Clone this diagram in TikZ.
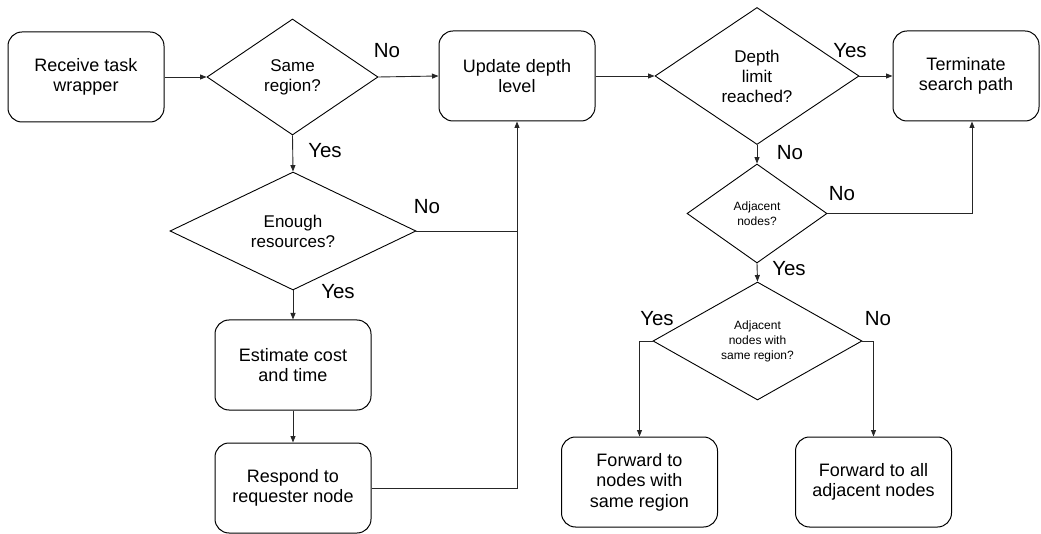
\documentclass[tikz,border=0pt]{standalone}
\usepackage{fontspec}
\setmainfont{Liberation Sans}
\usetikzlibrary{shapes.geometric,arrows.meta}
\tikzset{
  box/.style={draw=black, line width=1pt, rounded corners=14pt, align=center,
    minimum width=156pt, minimum height=90pt, inner sep=0pt,
    font=\fontsize{18}{20.5}\selectfont},
  dia/.style={draw=black, line width=0.9pt, diamond, align=center, inner sep=0pt,
    font=\fontsize{17}{20}\selectfont},
  sdia/.style={dia, font=\fontsize{12}{15}\selectfont},
  lbl/.style={inner sep=0pt, font=\fontsize{20.5}{22}\selectfont},
  conn/.style={draw=black!85, line width=0.9pt},
  arr/.style={conn, -{Triangle[length=6.5pt,width=5pt]}},
}
\begin{document}
\begin{tikzpicture}[x=1pt,y=-1pt]
\useasboundingbox (0,0) rectangle (1041,534);
% boxes
\node[box] (recv) at (86,77) {Receive task\\wrapper};
\node[box] (update) at (517,76) {Update depth\\level};
\node[box, minimum width=146pt] (term) at (966,76) {Terminate\\search path};
\node[box] (est) at (293,365) {Estimate cost\\and time};
\node[box] (resp) at (293,488) {Respond to\\requester node};
\node[box] (fwd1) at (639.5,482) {Forward to\\nodes with\\same region};
\node[box] (fwd2) at (873.5,482) {Forward to all\\adjacent nodes};
% diamonds
\node[dia, aspect=1.47, minimum width=171pt, minimum height=116pt] (same) at (292.5,77) {Same\\region?};
\node[dia, aspect=2.08, minimum width=246pt, minimum height=118pt] (enough) at (293,231) {Enough\\resources?};
\node[dia, aspect=1.49, minimum width=204pt, minimum height=137pt] (depth) at (757,76) {Depth\\limit\\reached?};
\node[sdia, aspect=1.41, minimum width=140pt, minimum height=99pt] (adj) at (757,213.5) {Adjacent\\nodes?};
\node[sdia, aspect=1.77, minimum width=209pt, minimum height=118pt] (adjs) at (757.5,341) {Adjacent\\nodes with\\same region?};
% labels
\node[lbl] (l1) at (387,51) {No};
\node[lbl] (l2) at (325,151) {Yes};
\node[lbl] (l3) at (427,207) {No};
\node[lbl] (l4) at (338,292) {Yes};
\node[lbl] (l5) at (850,51) {Yes};
\node[lbl] (l6) at (790,153) {No};
\node[lbl] (l7) at (842,194) {No};
\node[lbl] (l8) at (789,269) {Yes};
\node[lbl] (l9) at (657,319) {Yes};
\node[lbl] (l10) at (878,319) {No};
% connectors
\draw[arr] (recv.east) -- (same.west);
\draw[arr] (same.east) -- (update.west);
\draw[arr] (same.south) -- (enough.north);
\draw[conn] (enough.east) -- (enough.east -| update.south);
\draw[arr] (enough.south) -- (est.north);
\draw[arr] (est.south) -- (resp.north);
\draw[arr] (resp.east) -| (update.south);
\draw[arr] (update.east) -- (depth.west);
\draw[arr] (depth.east) -- (term.west);
\draw[arr] (depth.south) -- (adj.north);
\draw[arr] (adj.east) -| ([xshift=6pt]term.south);
\draw[arr] (adj.south) -- (adjs.north);
\draw[arr] (adjs.west) -| (fwd1.north);
\draw[arr] (adjs.east) -| (fwd2.north);
\end{tikzpicture}
\end{document}
